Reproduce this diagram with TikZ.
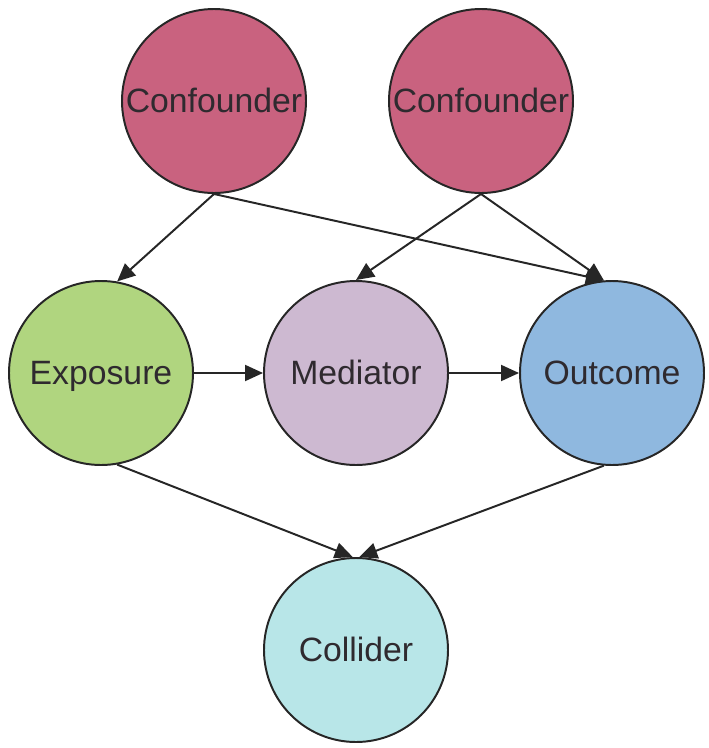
\documentclass[tikz,border=0pt]{standalone}
\usepackage{fontspec}
\setmainfont{Liberation Sans}
\usepackage{xcolor}
\usepackage{tikz}
\usetikzlibrary{arrows.meta}
\definecolor{confcol}{HTML}{C9627F}
\definecolor{expocol}{HTML}{B0D57F}
\definecolor{medcol}{HTML}{CDB9D1}
\definecolor{outcol}{HTML}{8FB8DF}
\definecolor{collcol}{HTML}{B8E6E8}
\definecolor{textcol}{HTML}{2F2A2F}
\definecolor{linecol}{HTML}{262626}

\begin{document}
\begin{tikzpicture}[
    var/.style={circle, draw=linecol, line width=1.4pt, minimum size=4.6cm, inner sep=0pt, text=textcol, text height=16pt, text depth=0pt, font=\fontsize{24}{28}\selectfont},
    link/.style={draw=linecol, line width=1.4pt, -{Triangle[length=4.5mm, width=4mm]}}
]
\useasboundingbox (0,0) rectangle (17.725,-18.7);

\node[var, fill=confcol] (conf1) at (5.35,-2.525) {Confounder};
\node[var, fill=confcol] (conf2) at (12.025,-2.525) {Confounder};
\node[var, fill=expocol] (expo) at (2.525,-9.325) {Exposure};
\node[var, fill=medcol] (med) at (8.9,-9.325) {Mediator};
\node[var, fill=outcol] (outc) at (15.3,-9.325) {Outcome};
\node[var, fill=collcol] (coll) at (8.9,-16.25) {Collider};

% confounder paths
\draw[link] (conf1.south) -- (expo.80);
\draw[link] (conf1.south) -- (outc.95);
\draw[link] (conf2.south) -- (med.north);
\draw[link] (conf2.south) -- (outc.95);

% causal chain
\draw[link] (expo.east) -- (med.west);
\draw[link] (med.east) -- (outc.west);

% collider
\draw[link] (expo.-80) -- (coll.92);
\draw[link] (outc.-95) -- (coll.88);
\end{tikzpicture}
\end{document}
